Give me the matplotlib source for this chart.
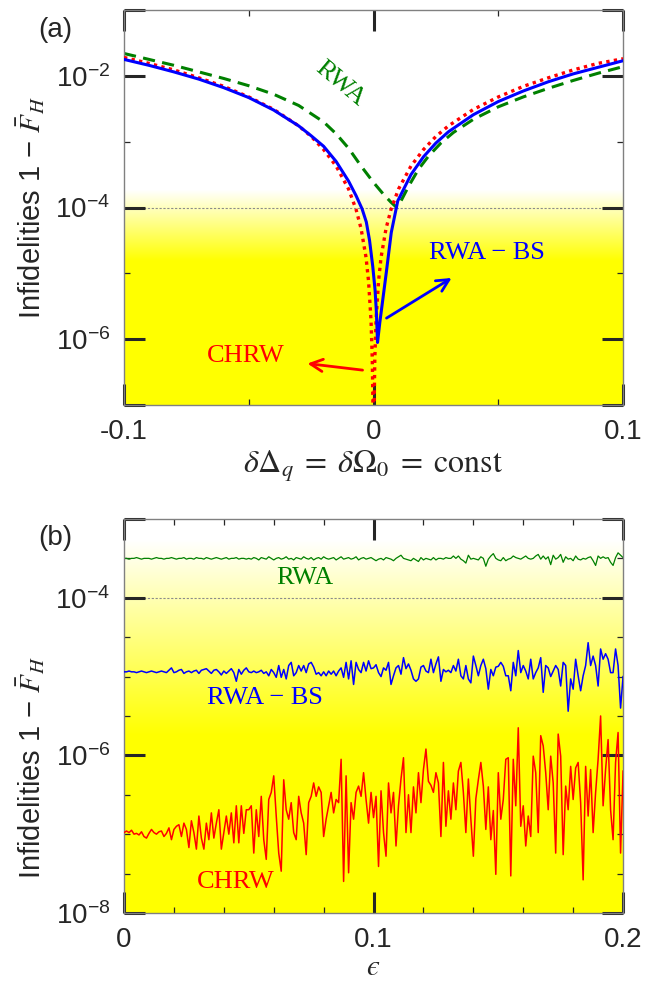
import numpy as np
import matplotlib
matplotlib.use('Agg')
import matplotlib.pyplot as plt
from matplotlib.ticker import NullFormatter

plt.rcParams['font.family'] = ['Liberation Sans', 'DejaVu Sans']
plt.rcParams['mathtext.fontset'] = 'stix'

# ---------------- panel (a): infidelity vs detuning error ----------------
# values given as log10(1 - F)
delta_red = [-0.1, -0.09, -0.08, -0.07, -0.06, -0.05, -0.04, -0.03, -0.025, -0.02,
             -0.015, -0.01, -0.007, -0.005, -0.003, -0.002, -0.001, -0.0005, -0.0002, 0.0,
             0.0002, 0.0005, 0.001, 0.002, 0.003, 0.005, 0.007, 0.01, 0.015, 0.02,
             0.025, 0.03, 0.04, 0.05, 0.06, 0.07, 0.08, 0.09, 0.1]
chrw_a_log = [-1.72, -1.81, -1.91, -2.03, -2.16, -2.32, -2.51, -2.76, -2.92, -3.12,
              -3.37, -3.72, -4.03, -4.32, -4.76, -5.12, -5.72, -6.32, -7.12, -8.5,
              -7.12, -6.32, -5.72, -5.12, -4.76, -4.32, -4.03, -3.72, -3.37, -3.12,
              -2.92, -2.76, -2.51, -2.32, -2.16, -2.03, -1.91, -1.81, -1.74]

delta_blue = [-0.1, -0.09, -0.08, -0.07, -0.06, -0.05, -0.04, -0.03, -0.025, -0.02,
              -0.015, -0.01, -0.007, -0.0046, -0.0029, -0.0016, -0.0003, 0.0006, 0.0011, 0.0016,
              0.0025, 0.0037, 0.0051, 0.0071, 0.0097, 0.015, 0.02, 0.025, 0.03, 0.04,
              0.05, 0.06, 0.07, 0.08, 0.09, 0.1]
rwabs_a_log = [-1.75, -1.84, -1.94, -2.05, -2.18, -2.33, -2.52, -2.76, -2.91, -3.07,
               -3.30, -3.60, -3.82, -4.02, -4.22, -4.50, -4.90, -5.25, -5.56, -6.05,
               -5.75, -5.40, -4.99, -4.38, -3.90, -3.50, -3.23, -3.02, -2.85, -2.59,
               -2.39, -2.23, -2.09, -1.97, -1.87, -1.77]

delta_green = [-0.1, -0.09, -0.08, -0.07, -0.06, -0.05, -0.04, -0.03, -0.02, -0.015,
               -0.01, -0.005, 0.0, 0.004, 0.007, 0.009, 0.011, 0.014, 0.018, 0.022,
               0.027, 0.032, 0.04, 0.05, 0.06, 0.07, 0.08, 0.09, 0.1]
rwa_a_log = [-1.66, -1.75, -1.84, -1.94, -2.04, -2.15, -2.28, -2.45, -2.70, -2.88,
             -3.10, -3.37, -3.62, -3.80, -3.92, -3.99, -3.90, -3.68, -3.42, -3.22,
             -3.02, -2.86, -2.66, -2.47, -2.32, -2.19, -2.07, -1.96, -1.86]

# ---------------- panel (b): infidelity vs epsilon (step 0.001) ----------------
rwa_b_log = [
    -3.50, -3.50, -3.51, -3.50, -3.50, -3.49, -3.50, -3.51, -3.50, -3.50,
    -3.50, -3.51, -3.50, -3.49, -3.50, -3.50, -3.51, -3.50, -3.50, -3.49,
    -3.50, -3.51, -3.50, -3.50, -3.49, -3.51, -3.50, -3.50, -3.51, -3.49,
    -3.50, -3.50, -3.51, -3.49, -3.50, -3.51, -3.50, -3.49, -3.50, -3.51,
    -3.50, -3.49, -3.51, -3.50, -3.50, -3.49, -3.51, -3.50, -3.50, -3.51,
    -3.50,
    -3.51, -3.49, -3.50, -3.52, -3.49, -3.50, -3.51, -3.48, -3.50, -3.52,
    -3.50, -3.49, -3.51, -3.50, -3.48, -3.51, -3.50, -3.52, -3.49, -3.50,
    -3.51, -3.48, -3.50, -3.51, -3.49, -3.52, -3.50, -3.49, -3.51, -3.48,
    -3.50, -3.51, -3.50, -3.49, -3.52, -3.50, -3.48, -3.51, -3.50, -3.49,
    -3.51, -3.50, -3.48, -3.52, -3.50, -3.49, -3.51, -3.50, -3.49, -3.51,
    -3.53, -3.51, -3.50, -3.52, -3.49, -3.50, -3.51, -3.53, -3.50, -3.48,
    -3.46, -3.50, -3.51, -3.52, -3.53, -3.50, -3.52, -3.54, -3.49, -3.52,
    -3.50, -3.51, -3.52, -3.49, -3.52, -3.50, -3.50, -3.51, -3.49, -3.50,
    -3.50, -3.47, -3.50, -3.47, -3.51, -3.53, -3.56, -3.46, -3.51, -3.50,
    -3.51, -3.52, -3.48, -3.50, -3.60, -3.51, -3.47, -3.44, -3.50, -3.52,
    -3.53, -3.49, -3.53, -3.51, -3.50, -3.47, -3.49, -3.50, -3.51, -3.49,
    -3.47, -3.50, -3.51, -3.50, -3.47, -3.45, -3.51, -3.47, -3.51, -3.48,
    -3.58, -3.46, -3.51, -3.49, -3.45, -3.55, -3.48, -3.51, -3.50, -3.53,
    -3.47, -3.51, -3.52, -3.50, -3.51, -3.49, -3.48, -3.53, -3.59, -3.47,
    -3.50, -3.48, -3.50, -3.49, -3.55, -3.59, -3.49, -3.43, -3.46, -3.49]

rwabs_b_log = [
    -4.94, -4.94, -4.93, -4.94, -4.94, -4.95, -4.94, -4.93, -4.94, -4.95,
    -4.94, -4.93, -4.94, -4.95, -4.94, -4.93, -4.94, -4.95, -4.92, -4.89,
    -4.95, -4.94, -4.92, -4.91, -4.96, -4.94, -4.93, -4.95, -4.93, -4.92,
    -4.96, -4.92, -4.91, -4.90, -4.93, -4.96, -4.92, -4.91, -4.94, -4.98,
    -4.93, -4.96, -4.93, -4.90, -4.95, -5.06, -4.91, -4.97, -4.92, -4.89,
    -4.94,
    -4.95, -4.93, -4.95, -4.94, -4.92, -4.96, -4.94, -4.99, -4.91, -4.95,
    -5.01, -4.86, -5.01, -4.91, -5.03, -4.86, -4.82, -4.99, -4.95, -4.86,
    -4.93, -4.86, -4.95, -4.84, -4.82, -4.88, -4.97, -4.95, -4.99, -4.94,
    -4.99, -4.93, -4.97, -4.93, -4.99, -4.93, -4.89, -5.01, -4.82, -5.03,
    -4.80, -5.10, -4.82, -4.91, -4.95, -4.82, -4.93, -4.80, -4.90, -4.89,
    -4.85, -4.95, -5.00, -4.89, -4.92, -4.82, -5.10, -4.99, -4.89, -4.86,
    -4.97, -4.76, -4.90, -4.84, -4.92, -5.03, -5.06, -5.03, -4.88, -4.86,
    -4.93, -4.95, -4.78, -4.95, -4.84, -4.75, -5.06, -4.91, -4.94, -4.92,
    -4.95, -4.86, -4.93, -4.78, -4.99, -5.03, -4.86, -5.03, -5.08, -4.74,
    -4.86, -4.99, -4.86, -4.78, -4.90, -5.16, -4.91, -4.99, -4.88, -4.87,
    -4.82, -4.87, -4.99, -4.99, -5.18, -4.82, -4.99, -4.67, -4.95, -4.86,
    -4.93, -5.03, -4.78, -5.03, -4.95, -4.89, -4.76, -5.20, -4.86, -4.89,
    -5.00, -4.93, -4.86, -4.91, -5.12, -4.82, -4.86, -5.44, -5.03, -5.16,
    -4.78, -4.99, -5.18, -4.99, -4.86, -4.57, -4.86, -4.74, -4.86, -5.12,
    -4.65, -4.78, -4.71, -4.78, -4.95, -4.95, -4.65, -4.86, -5.40, -5.00]

chrw_b_log = [
    -6.98, -6.96, -6.98, -6.95, -7.00, -6.99, -7.01, -6.97, -7.03, -7.05,
    -6.99, -6.94, -6.98, -7.00, -6.97, -6.96, -7.03, -6.99, -6.92, -7.07,
    -6.94, -6.90, -6.88, -7.03, -6.86, -6.94, -7.17, -6.83, -6.98, -7.19,
    -6.77, -7.05, -7.19, -6.86, -7.07, -6.73, -7.05, -6.86, -6.69, -7.19,
    -6.98, -6.77, -7.00, -6.73, -7.11, -6.64, -7.11, -6.64, -6.99, -6.69,
    -6.69,
    -6.64, -7.24, -6.69, -7.03, -6.52, -7.07, -7.32, -6.56, -6.47, -6.26,
    -6.77, -7.24, -7.47, -6.31, -6.69, -6.81, -6.60, -6.98, -7.07, -6.52,
    -6.73, -6.86, -7.26, -6.60, -6.52, -6.35, -6.52, -6.40, -6.47, -7.03,
    -6.81, -6.64, -6.47, -6.73, -6.56, -6.60, -6.05, -7.60, -6.26, -7.49,
    -6.60, -6.81, -6.47, -6.39, -6.52, -6.22, -6.56, -6.86, -6.47, -6.79,
    -6.52, -7.41, -6.45, -6.98, -7.28, -6.35, -6.73, -6.47, -7.15, -6.64,
    -6.30, -6.03, -6.98, -6.50, -6.98, -6.40, -6.73, -6.22, -6.60, -6.18,
    -5.92, -6.33, -6.38, -6.47, -6.22, -6.35, -7.03, -6.09, -6.90, -6.45,
    -6.81, -6.35, -6.69, -6.20, -6.09, -6.47, -6.98, -6.30, -6.81, -7.28,
    -6.55, -6.31, -6.09, -6.39, -6.94, -6.40, -7.07, -6.70, -7.51, -6.22,
    -6.81, -6.56, -6.05, -6.03, -7.53, -6.05, -6.64, -5.65, -6.90, -6.64,
    -7.15, -6.77, -7.03, -6.01, -6.22, -6.98, -5.75, -5.88, -6.22, -6.69,
    -6.01, -6.35, -7.24, -5.73, -6.01, -7.26, -6.39, -6.69, -6.14, -6.56,
    -6.16, -6.09, -6.60, -7.58, -6.14, -6.77, -6.18, -6.98, -6.47, -6.05,
    -5.50, -6.64, -6.18, -5.80, -6.69, -7.07, -6.09, -5.71, -7.24, -6.20]

eps_step = 0.001

text_col = '#262626'
green = '#008000'


def yellow_background(ax, white_at, full_at):
    # white -> yellow vertical gradient in axes fraction
    frac = np.linspace(0, 1, 500)[:, None]
    t = np.clip((white_at - frac) / (white_at - full_at), 0, 1)
    img = np.dstack([np.ones_like(t), np.ones_like(t), 1 - t])
    ax.imshow(img, extent=[0, 1, 0, 1], transform=ax.transAxes, origin='lower',
              aspect='auto', zorder=0, interpolation='bilinear')


def style_axes(ax):
    for sp in ax.spines.values():
        sp.set_color('#808080')
        sp.set_linewidth(1.0)
    ax.tick_params(which='both', direction='in', top=True, right=True,
                   color=text_col, labelcolor=text_col)
    ax.tick_params(which='major', length=15, width=2.2, labelsize=20, pad=10)
    ax.tick_params(which='minor', length=4, width=0.9)
    ax.yaxis.set_minor_formatter(NullFormatter())
    ax.xaxis.set_minor_formatter(NullFormatter())


fig = plt.figure(figsize=(6.47, 9.84), dpi=100)
ax_a = fig.add_axes([0.1917, 0.5884, 0.7713, 0.4014])
ax_b = fig.add_axes([0.1917, 0.0722, 0.7713, 0.4004])

# ---- (a) ----
yellow_background(ax_a, 0.545, 0.365)
ax_a.set_yscale('log')
ax_a.axhline(1e-4, color='#8c8c8c', lw=0.8, ls=(0, (2, 1.5)), zorder=1)
ax_a.plot(delta_green, 10 ** np.array(rwa_a_log), color=green, lw=2.2,
          ls=(0, (4, 2.4)), zorder=2)
ax_a.plot(delta_red, 10 ** np.array(chrw_a_log), color='red', lw=2.4,
          ls=(0, (1, 1.3)), zorder=3)
ax_a.plot(delta_blue, 10 ** np.array(rwabs_a_log), color='blue', lw=2.2, zorder=4)
ax_a.set_xlim(-0.1, 0.1)
ax_a.set_ylim(1e-7, 1e-1)
ax_a.set_xticks([-0.1, 0, 0.1], ['-0.1', '0', '0.1'])
ax_a.set_xticks([-0.05, 0.05], minor=True)
ax_a.set_yticks([1e-7, 1e-6, 1e-4, 1e-2, 1e-1],
                ['', r'$\mathregular{10^{-6}}$', r'$\mathregular{10^{-4}}$',
                 r'$\mathregular{10^{-2}}$', ''])
ax_a.set_yticks([1e-5, 1e-3], minor=True)
style_axes(ax_a)

serif = 'Liberation Serif'
ax_a.text(-0.0136, 7.6e-3, 'RWA', color=green, rotation=-40, ha='center',
          va='center', fontsize=19, family=serif)
ax_a.text(0.0453, 2.06e-5, 'RWA − BS', color='blue', ha='center', va='center',
          fontsize=19, family=serif)
ax_a.text(-0.0513, 5.5e-7, 'CHRW', color='red', ha='center', va='center',
          fontsize=19, family=serif)
ax_a.annotate('', xy=(0.0313, 10 ** -5.07), xytext=(0.0052, 10 ** -5.68),
              arrowprops=dict(arrowstyle='->', color='blue', lw=2,
                              mutation_scale=22, shrinkA=0, shrinkB=0))
ax_a.annotate('', xy=(-0.0265, 10 ** -6.37), xytext=(-0.0044, 10 ** -6.47),
              arrowprops=dict(arrowstyle='->', color='red', lw=2,
                              mutation_scale=22, shrinkA=0, shrinkB=0))
ax_a.set_xlabel(r'$\delta\Delta_q \;=\; \delta\Omega_0 \;=\; \mathrm{const}$',
                fontsize=23, color=text_col, labelpad=3)
ax_a.set_ylabel(r'Infidelities 1 − $\bar{F}_H$', fontsize=21, color=text_col)
ax_a.yaxis.set_label_coords(-0.155, 0.50)

# ---- (b) ----
yellow_background(ax_b, 0.947, 0.452)
ax_b.set_yscale('log')
ax_b.axhline(1e-4, color='#8c8c8c', lw=0.8, ls=(0, (2, 1.5)), zorder=1)
ax_b.plot(eps_step * np.arange(len(rwa_b_log)), 10 ** np.array(rwa_b_log),
          color=green, lw=0.9, zorder=2)
ax_b.plot(eps_step * np.arange(len(rwabs_b_log)), 10 ** np.array(rwabs_b_log),
          color='blue', lw=1.1, zorder=3)
ax_b.plot(eps_step * np.arange(len(chrw_b_log)), 10 ** np.array(chrw_b_log),
          color='red', lw=1.1, zorder=4)
ax_b.set_xlim(0, 0.2)
ax_b.set_ylim(1e-8, 1e-3)
ax_b.set_xticks([0, 0.1, 0.2], ['0', '0.1', '0.2'])
ax_b.set_xticks(np.arange(1, 10) * 0.02, minor=True)
ax_b.set_yticks([1e-8, 1e-6, 1e-4, 1e-3],
                [r'$\mathregular{10^{-8}}$', r'$\mathregular{10^{-6}}$',
                 r'$\mathregular{10^{-4}}$', ''])
ax_b.set_yticks(10.0 ** np.array([-7.5, -7, -6.5, -5.5, -5, -4.5, -3.5]), minor=True)
style_axes(ax_b)

ax_b.text(0.0725, 1.78e-4, 'RWA', color=green, ha='center', va='center',
          fontsize=19, family=serif)
ax_b.text(0.0565, 5.4e-6, 'RWA − BS', color='blue', ha='center', va='center',
          fontsize=19, family=serif)
ax_b.text(0.0449, 2.45e-8, 'CHRW', color='red', ha='center', va='center',
          fontsize=19, family=serif)
ax_b.set_xlabel('$\u03f5$', fontsize=21, color=text_col, labelpad=0)
ax_b.set_ylabel(r'Infidelities 1 − $\bar{F}_H$', fontsize=21, color=text_col)
ax_b.yaxis.set_label_coords(-0.155, 0.37)

fig.text(0.085, 0.9695, '(a)', fontsize=20, color=text_col, ha='center', va='center')
fig.text(0.085, 0.4533, '(b)', fontsize=20, color=text_col, ha='center', va='center')

fig.savefig('out.png', dpi=100)
